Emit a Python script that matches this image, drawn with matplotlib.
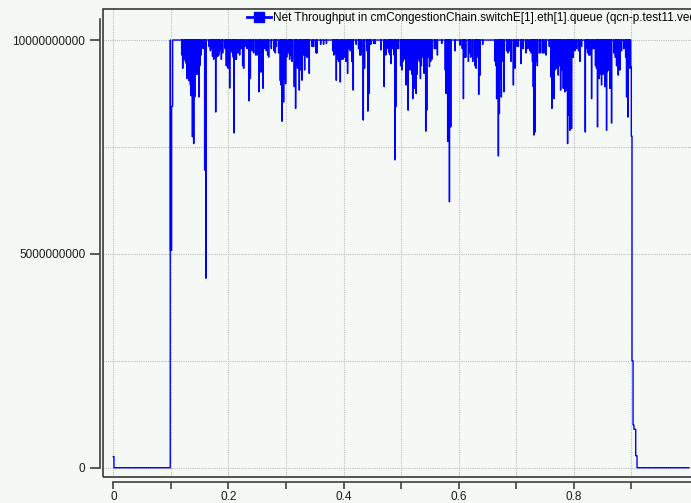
import matplotlib
matplotlib.use("Agg")
import matplotlib.pyplot as plt
from matplotlib.lines import Line2D
from matplotlib.patches import Rectangle
from matplotlib.ticker import MultipleLocator, FixedLocator, FuncFormatter

plt.rcParams['font.family'] = ['Liberation Sans', 'DejaVu Sans']

BG = '#f5f9f5'
BLUE = '#0000ff'
SCALE = 1e9  # values below are in Gbit/s

# idle period before traffic starts
lead_t = [0.0, 0.0010]
lead_v = [0.26, 0.0]

# ramp-up around t = 0.1 s
rise_t = [0.0988, 0.0992, 0.1012, 0.1030]
rise_v = [10.0, 5.08, 8.45, 10.0]

# throughput dips below the 10G line rate during the busy period
dip_t = [
    0.1186, 0.1203, 0.1230, 0.1250, 0.1265, 0.1278, 0.1290, 0.1305, 0.1313, 0.1325,
    0.1336, 0.1348, 0.1360, 0.1371, 0.1383, 0.1394, 0.1405, 0.1412, 0.1425, 0.1440,
    0.1452, 0.1465, 0.1475, 0.1487, 0.1500, 0.1521, 0.1556, 0.1585, 0.1605, 0.1660,
    0.1683, 0.1700, 0.1720, 0.1741, 0.1755, 0.1776, 0.1790, 0.1810, 0.1828, 0.1845,
    0.1874, 0.1897, 0.1940, 0.1960, 0.1972, 0.1985, 0.2001, 0.2019, 0.2040, 0.2065,
    0.2080, 0.2094, 0.2110, 0.2134, 0.2160, 0.2192, 0.2215, 0.2245, 0.2262, 0.2290,
    0.2320, 0.2354, 0.2377, 0.2410, 0.2435, 0.2470, 0.2493, 0.2528, 0.2545, 0.2562,
    0.2597, 0.2630, 0.2655, 0.2680, 0.2696, 0.2742, 0.2790, 0.2811, 0.2830, 0.2869,
    0.2898, 0.2910, 0.2927, 0.2940, 0.2956, 0.2970, 0.2991, 0.3010, 0.3042, 0.3060,
    0.3080, 0.3100, 0.3141, 0.3164, 0.3185, 0.3199, 0.3228, 0.3250, 0.3274, 0.3300,
    0.3321, 0.3340, 0.3361, 0.3380, 0.3401, 0.3450, 0.3477, 0.3520, 0.3534, 0.3600,
    0.3650, 0.3700, 0.3810, 0.3830, 0.3847, 0.3871, 0.3890, 0.3911, 0.3940, 0.3960,
    0.3986, 0.4010, 0.4038, 0.4067, 0.4090, 0.4114, 0.4142, 0.4165, 0.4217, 0.4258,
    0.4280, 0.4298, 0.4339, 0.4362, 0.4402, 0.4419, 0.4443, 0.4471, 0.4520, 0.4547,
    0.4645, 0.4703, 0.4732, 0.4770, 0.4790, 0.4807, 0.4824, 0.4850, 0.4876, 0.4888,
    0.4905, 0.4930, 0.4952, 0.4990, 0.5009, 0.5030, 0.5050, 0.5067, 0.5085, 0.5100,
    0.5119, 0.5135, 0.5154, 0.5170, 0.5185, 0.5200, 0.5212, 0.5224, 0.5240, 0.5258,
    0.5275, 0.5299, 0.5315, 0.5333, 0.5350, 0.5374, 0.5397, 0.5415, 0.5426, 0.5443,
    0.5465, 0.5490, 0.5510, 0.5530, 0.5576, 0.5600, 0.5628, 0.5703, 0.5765, 0.5779,
    0.5795, 0.5808, 0.5822, 0.5837, 0.5860, 0.5935, 0.6022, 0.6060, 0.6080, 0.6100,
    0.6120, 0.6167, 0.6190, 0.6207, 0.6242, 0.6280, 0.6300, 0.6320, 0.6346, 0.6369,
    0.6415, 0.6630, 0.6647, 0.6658, 0.6687, 0.6704, 0.6720, 0.6739, 0.6763, 0.6786,
    0.6830, 0.6855, 0.6880, 0.6907, 0.6948, 0.6977, 0.7010, 0.7035, 0.7080, 0.7100,
    0.7121, 0.7167, 0.7200, 0.7237, 0.7260, 0.7280, 0.7294, 0.7306, 0.7323, 0.7345,
    0.7364, 0.7400, 0.7422, 0.7460, 0.7480, 0.7515, 0.7572, 0.7601, 0.7618, 0.7635,
    0.7653, 0.7670, 0.7685, 0.7699, 0.7715, 0.7728, 0.7745, 0.7769, 0.7790, 0.7815,
    0.7830, 0.7844, 0.7873, 0.7890, 0.7907, 0.7930, 0.7945, 0.7959, 0.7975, 0.7988,
    0.8020, 0.8046, 0.8080, 0.8104, 0.8133, 0.8197, 0.8220, 0.8237, 0.8260, 0.8278,
    0.8307, 0.8330, 0.8347, 0.8375, 0.8393, 0.8410, 0.8425, 0.8439, 0.8455, 0.8470,
    0.8480, 0.8495, 0.8509, 0.8538, 0.8555, 0.8567, 0.8579, 0.8600, 0.8615, 0.8625,
    0.8640, 0.8654, 0.8695, 0.8720, 0.8741, 0.8755, 0.8770, 0.8799, 0.8828, 0.8868,
    0.8900, 0.8915, 0.8938, 0.8961, 0.8973,
]
dip_v = [
    9.65, 9.34, 9.55, 9.50, 9.45, 9.10, 9.15, 9.10, 9.05, 9.10,
    8.95, 8.70, 9.10, 7.74, 8.90, 7.58, 9.20, 8.67, 9.30, 9.20,
    9.20, 9.25, 9.30, 8.67, 9.40, 9.65, 9.80, 6.96, 4.43, 9.85,
    9.75, 9.80, 9.62, 9.55, 9.70, 8.32, 9.60, 9.62, 9.65, 9.75,
    9.55, 9.70, 9.80, 9.40, 9.45, 9.35, 9.34, 8.88, 9.75, 9.70,
    9.60, 7.83, 9.55, 9.55, 9.70, 9.65, 9.80, 9.40, 9.34, 9.85,
    9.80, 8.58, 9.10, 9.75, 9.70, 9.65, 9.65, 8.79, 9.30, 9.25,
    8.87, 9.80, 9.75, 9.65, 9.60, 9.80, 9.75, 9.70, 9.85, 9.70,
    9.05, 8.95, 8.10, 9.00, 8.55, 9.10, 8.98, 9.60, 9.70, 9.55,
    9.65, 9.50, 8.91, 8.40, 9.40, 9.34, 8.83, 9.30, 9.06, 9.65,
    9.30, 9.65, 9.60, 9.60, 9.22, 9.85, 9.85, 9.70, 9.70, 9.90,
    9.90, 9.92, 9.75, 9.65, 9.70, 9.06, 9.55, 9.50, 9.02, 9.55,
    9.55, 9.60, 9.50, 9.22, 9.80, 9.75, 9.50, 8.83, 9.90, 9.80,
    9.65, 9.65, 8.13, 9.34, 9.75, 8.34, 8.75, 9.90, 9.92, 9.92,
    9.77, 8.91, 9.65, 9.80, 9.70, 9.65, 9.45, 9.80, 9.65, 7.20,
    8.44, 9.80, 9.80, 9.40, 9.30, 9.50, 9.60, 9.55, 8.95, 9.50,
    8.36, 9.40, 9.30, 9.50, 9.20, 8.63, 9.10, 8.87, 9.10, 8.75,
    9.20, 9.55, 9.50, 9.10, 9.40, 9.60, 9.22, 9.50, 7.87, 8.36,
    9.60, 9.38, 9.50, 9.55, 9.80, 9.80, 9.65, 9.92, 9.30, 8.75,
    8.80, 7.63, 8.70, 6.22, 7.97, 9.75, 9.88, 9.80, 8.63, 9.60,
    9.60, 9.50, 9.70, 9.60, 9.50, 9.40, 9.34, 9.60, 8.73, 9.18,
    9.90, 9.50, 9.40, 8.63, 7.29, 8.28, 9.10, 8.67, 9.50, 8.79,
    9.75, 9.70, 9.75, 9.50, 8.95, 9.34, 9.85, 9.85, 9.45, 9.80,
    9.80, 9.70, 9.80, 9.75, 9.70, 9.50, 8.91, 7.78, 7.85, 9.50,
    9.40, 9.70, 9.70, 9.70, 9.70, 9.65, 9.85, 9.14, 8.40, 9.30,
    8.63, 9.30, 9.40, 9.34, 9.40, 9.18, 9.40, 8.83, 9.30, 8.87,
    9.30, 8.79, 8.83, 7.58, 8.24, 7.89, 9.30, 7.93, 9.60, 9.60,
    9.75, 9.80, 9.75, 9.50, 9.85, 7.85, 9.80, 9.70, 9.65, 9.65,
    8.63, 9.80, 9.80, 9.40, 9.34, 7.97, 9.30, 9.10, 9.40, 9.20,
    8.95, 9.30, 9.20, 8.91, 9.40, 7.89, 9.26, 9.30, 9.30, 8.87,
    9.30, 8.06, 9.70, 9.60, 9.40, 9.40, 9.18, 9.30, 9.75, 9.80,
    9.60, 8.67, 8.20, 9.40, 9.34,
]
LINE_RATE = 10.0

# ramp-down around t = 0.9 s
fall_t = [0.8990, 0.9000, 0.9012, 0.9030, 0.9045, 0.9076, 0.9099]
fall_v = [9.37, 7.75, 2.50, 1.00, 0.90, 0.28, 0.0]
end_t = 1.0

# x tick labels shown on the time axis
x_labels = {0: '0', 2: '0.2', 4: '0.4', 6: '0.6', 8: '0.8'}

# assemble a sample-and-hold vector
t = list(lead_t) + list(rise_t)
v = list(lead_v) + list(rise_v)
for i, (dt, dv) in enumerate(zip(dip_t, dip_v)):
    nxt = dip_t[i + 1] if i + 1 < len(dip_t) else fall_t[0]
    hold = min(0.0005, 0.6 * (nxt - dt))
    t += [dt, dt + hold]
    v += [dv, LINE_RATE]
t += fall_t + [end_t]
v += fall_v + [0.0]
v = [x * SCALE for x in v]

fig = plt.figure(figsize=(6.91, 5.03), dpi=100, facecolor=BG)
PX_X = 575.5          # pixels per second
PX_Y = 42.77 / SCALE  # pixels per bit/s
ax_w, ax_h = 600.0, 468.5
ax = fig.add_axes([102.5 / 691, 25.7 / 503, ax_w / 691, ax_h / 503])
ax.set_facecolor(BG)
x0 = -0.0189
y0 = -0.224e9
ax.set_xlim(x0, x0 + ax_w / PX_X)
ax.set_ylim(y0, y0 + ax_h / PX_Y)

ax.plot(t, v, drawstyle='steps-post', color=BLUE, lw=1.0)

# plot frame
ax.add_patch(Rectangle((0, 0), 1, 1, transform=ax.transAxes, fill=False,
                       ec='#383838', lw=1.2, clip_on=False, zorder=5))

for s in ('top', 'right'):
    ax.spines[s].set_visible(False)
ax.spines['left'].set_position(('outward', 1.5))
ax.spines['bottom'].set_position(('outward', 3.6))
ax.spines['left'].set_bounds(0, 10.5e9)
ax.spines['bottom'].set_bounds(0, x0 + ax_w / PX_X)
for s in ('left', 'bottom'):
    ax.spines[s].set_color('#404040')
    ax.spines[s].set_linewidth(1.2)

ax.xaxis.set_major_locator(FixedLocator([k / 10 for k in range(10)]))
ax.xaxis.set_major_formatter(FuncFormatter(
    lambda x, p: x_labels.get(int(round(x * 10)), '')))
ax.yaxis.set_major_locator(FixedLocator([0, 5e9, 1e10]))
ax.yaxis.set_minor_locator(MultipleLocator(2.5e9))
ax.yaxis.set_major_formatter(FuncFormatter(lambda y, p: f"{y:.0f}"))

ax.tick_params(axis='y', which='major', length=7.2, width=1.2, pad=3.6,
               color='#404040', labelcolor='#1a1a1a', labelsize=8.5)
ax.tick_params(axis='y', which='minor', length=0)
ax.tick_params(axis='x', which='major', length=4.8, width=1.2, pad=1.6,
               color='#404040', labelcolor='#1a1a1a', labelsize=8.5)

ax.set_axisbelow(True)
grid_kw = dict(color='#bdbdbd', linestyle=(0, (1, 1)), linewidth=0.8)
ax.grid(True, which='major', axis='x', **grid_kw)
ax.grid(True, which='both', axis='y', **grid_kw)

handle = Line2D([], [], color=BLUE, lw=2.0, marker='s', markersize=7)
ax.legend([handle], ['Net Throughput in cmCongestionChain.switchE[1].eth[1].queue (qcn-p.test11.vec)'],
          loc='upper left', bbox_to_anchor=(247 / 691, 1 - 12 / 503),
          bbox_transform=fig.transFigure, frameon=False, fontsize=8.5,
          handlelength=2.0, handletextpad=0.2, borderpad=0, borderaxespad=0)

fig.savefig('out.png', dpi=100, facecolor=BG)
